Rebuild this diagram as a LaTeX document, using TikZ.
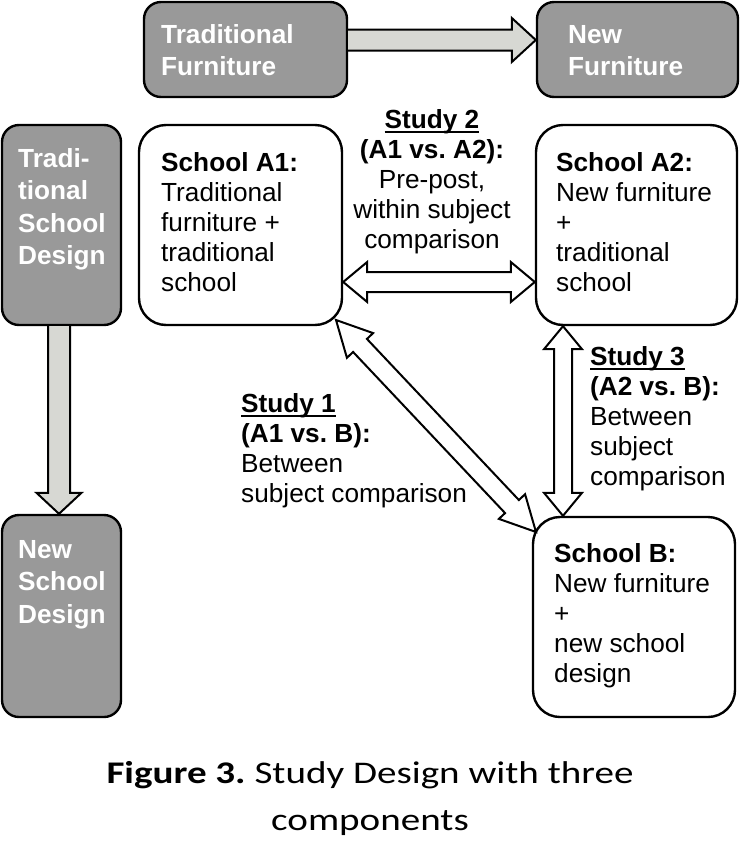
\documentclass[tikz,border=0pt]{standalone}
\usepackage{fontspec}
\setmainfont{Liberation Sans}
\newfontfamily\capfont[FakeStretch=1.24]{Carlito}
\usetikzlibrary{calc}
\frenchspacing
\definecolor{boxgray}{RGB}{153,153,153}
\definecolor{arrgray}{RGB}{215,216,211}
\newsavebox\ulbox
\newcommand\myul[1]{\sbox\ulbox{#1}\rlap{\rule[-4.6pt]{\wd\ulbox}{1.8pt}}\usebox\ulbox}
\newcommand\fst{\rule{0pt}{20pt}}
% single arrow: start, tip, shaft half, head half, head length, style
\newcommand\sarrow[6]{%
 \draw[#6] ($(#1)!#3!90:(#2)$) -- ($(#2)!#5!(#1)!#3!-90:(#1)$) -- ($(#2)!#5!(#1)!#4!-90:(#1)$) -- (#2) -- ($(#2)!#5!(#1)!#4!90:(#1)$) -- ($(#2)!#5!(#1)!#3!90:(#1)$) -- ($(#1)!#3!-90:(#2)$);}
% double arrow: tip A, tip B, shaft half, head half, head length, style
\newcommand\darrow[6]{%
 \draw[#6] (#1) -- ($(#1)!#5!(#2)!#4!90:(#2)$) -- ($(#1)!#5!(#2)!#3!90:(#2)$) -- ($(#2)!#5!(#1)!#3!-90:(#1)$) -- ($(#2)!#5!(#1)!#4!-90:(#1)$) -- (#2) -- ($(#2)!#5!(#1)!#4!90:(#1)$) -- ($(#2)!#5!(#1)!#3!90:(#1)$) -- ($(#1)!#5!(#2)!#3!-90:(#2)$) -- ($(#1)!#5!(#2)!#4!-90:(#2)$) -- cycle;}
\begin{document}
\begin{tikzpicture}[x=1pt,y=-1pt,
  gbox/.style={draw=black, line width=2.4pt, fill=boxgray, rounded corners=17pt, inner sep=0pt, outer sep=0pt},
  wbox/.style={draw=black, line width=2.4pt, fill=white, rounded corners=27pt, inner sep=0pt, outer sep=0pt},
  gtxt/.style={anchor=north west, inner sep=0pt, align=left, text=white, font=\fontsize{26.2}{32.5}\selectfont\bfseries},
  wtxt/.style={anchor=north west, inner sep=0pt, align=left, font=\fontsize{26.2}{30}\selectfont},
  garrow/.style={draw=black, line width=2pt, fill=arrgray, line join=miter},
  warrow/.style={draw=black, line width=2pt, fill=white, line join=miter}]
\useasboundingbox[fill=white] (0,0) rectangle (740,841);
% boxes
\node[gbox, minimum width=203pt, minimum height=95pt] (tf) at (245.5,49.5) {};
\node[gbox, minimum width=201pt, minimum height=95pt] (nf) at (637.5,49.5) {};
\node[gbox, minimum width=119pt, minimum height=200pt] (tsd) at (61.5,225) {};
\node[gbox, minimum width=119pt, minimum height=202pt] (nsd) at (61.5,616) {};
\node[wbox, minimum width=203pt, minimum height=200pt] (a1) at (240.5,225) {};
\node[wbox, minimum width=201pt, minimum height=200pt] (a2) at (636.5,225) {};
\node[wbox, minimum width=202pt, minimum height=200pt] (b) at (634,617) {};
% box texts
\node[gtxt] (tft) at (161,23) {\fst Traditional\\Furniture};
\node[gtxt] (nft) at (568,23) {\fst New\\Furniture};
\node[gtxt] (tsdt) at (18,147) {\fst Tradi-\\tional\\School\\Design};
\node[gtxt] (nsdt) at (18,538) {\fst New\\School\\Design};
\node[wtxt] (a1t) at (161,151) {\fst\textbf{School A1:}\\Traditional\\furniture +\\traditional\\school};
\node[wtxt] (a2t) at (556,151) {\fst\textbf{School A2:}\\New furniture\\+\\traditional\\school};
\node[wtxt] (bt) at (554,542) {\fst\textbf{School B:}\\New furniture\\+\\new school\\design};
% study labels
\begin{scope}
\clip (330,100) rectangle (540,253);
\node[wtxt, anchor=north, align=center] (s2) at (432,108) {\fst\textbf{\myul{Study 2}}\\\textbf{(A1 vs. A2):}\\Pre-post,\\within subject\\comparison};
\end{scope}
\node[wtxt] (s1) at (241,392) {\fst\textbf{\myul{Study 1}}\\\textbf{(A1 vs. B):}\\Between\\subject comparison};
\node[wtxt] (s3) at (590,345) {\fst\textbf{\myul{Study 3}}\\\textbf{(A2 vs. B):}\\Between\\subject\\comparison};
% gray arrows
\path (tf.east) ++(1.2,-9.5) coordinate (g1s);
\path (nf.west) ++(-1.2,-9.5) coordinate (g1t);
\sarrow{g1s}{g1t}{10.5pt}{22pt}{24pt}{garrow}
\path (tsd.south) ++(-2.5,1.2) coordinate (g2s);
\path (nsd.north) ++(-2.5,-1.2) coordinate (g2t);
\sarrow{g2s}{g2t}{11pt}{22.5pt}{21pt}{garrow}
% study arrows
\path (a1.east) ++(1.2,57) coordinate (h1);
\path (a2.west) ++(-1.2,57) coordinate (h2);
\darrow{h1}{h2}{10pt}{20pt}{24pt}{warrow}
\path (a2.south west) ++(27,1.2) coordinate (v1);
\path (b.north west) ++(30,-1.2) coordinate (v2);
\darrow{v1}{v2}{9pt}{19pt}{23pt}{warrow}
\path (a1.south east) ++(-6,-5) coordinate (d1);
\path (b.north west) ++(3,15) coordinate (d2);
\darrow{d1}{d2}{9.5pt}{18pt}{35pt}{warrow}
% caption
\node[anchor=north, inner sep=0pt, align=center, font=\capfont\fontsize{31.5}{47}\selectfont] (cap) at (370,759) {\rule{0pt}{24pt}\textbf{Figure 3.} Study Design with three\\components};
\end{tikzpicture}
\end{document}
